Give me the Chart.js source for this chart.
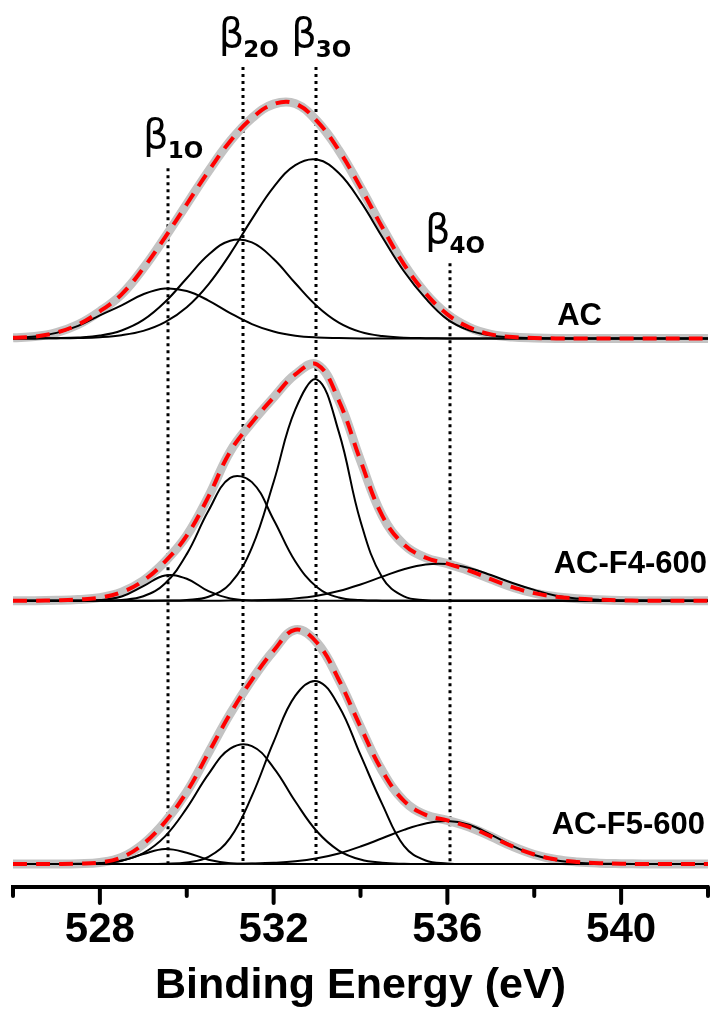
<!DOCTYPE html>
<html>
<head>
<meta charset="utf-8">
<script src="https://cdn.jsdelivr.net/npm/chart.js@4.4.1/dist/chart.umd.min.js"></script>
<style>
  html, body { margin: 0; padding: 0; background: #fff; }
  canvas { display: block; }
</style>
</head>
<body>
<canvas id="xpsChart" width="711" height="1012"></canvas>
<script>
// binding energy grid (eV)
const energy = [526, 526.5, 527, 527.5, 528, 528.5, 529, 529.5, 530, 530.5, 531, 531.5,
    532, 532.5, 533, 533.5, 534, 534.5, 535, 535.5, 536, 536.5, 537, 537.5,
    538, 538.5, 539, 539.5, 540, 540.5, 541, 541.5, 542];

// AC : fitted components and envelope (a.u. above its own baseline)
const acB1 = [0.6, 1.8, 5.5, 12.5, 23, 33, 44.1, 49.8, 47.3, 37.8, 25.3, 14.3, 6.8, 2.7, 0.9, 0.3, 0,
    0, 0, 0, 0, 0, 0, 0, 0, 0, 0, 0, 0, 0, 0, 0, 0];
const acB2 = [0, 0, 0.2, 0.9, 2.8, 7.9, 18.4, 36.3, 60.1, 83.5, 97.6, 95.9, 79.3, 55.1, 32.2, 15.8, 6.5,
    2.3, 0.7, 0.2, 0, 0, 0, 0, 0, 0, 0, 0, 0, 0, 0, 0, 0];
const acB3 = [0, 0, 0.1, 0.4, 1.2, 3.2, 7.5, 16.2, 31.1, 54, 84.4, 119.1, 151.2, 173.1, 178.6, 165.2, 136.8,
    101.3, 67.1, 39.9, 19, 8, 3, 1, 0.3, 0, 0, 0, 0, 0, 0, 0, 0];
const acEnv = [0.6, 1.8, 5.8, 13.8, 27, 44, 70, 101, 134, 167, 197, 220, 234, 234.5, 217, 188, 151,
    111, 74, 45, 24, 11, 4, 1.3, 0.4, 0, 0, 0, 0, 0, 0, 0, 0];

// AC-F4-600
const f4B1 = [0, 0, 0, 0, 0.6, 4.1, 14.5, 25.2, 21.9, 9.5, 2.1, 0.2, 0, 0, 0, 0, 0,
    0, 0, 0, 0, 0, 0, 0, 0, 0, 0, 0, 0, 0, 0, 0, 0];
const f4B2 = [0, 0, 0, 0, 0.1, 0.8, 4.4, 17.1, 46.5, 89.8, 122.6, 118.4, 80.9, 39.1, 13.4, 3.2, 0.6,
    0, 0, 0, 0, 0, 0, 0, 0, 0, 0, 0, 0, 0, 0, 0, 0];
const f4B3 = [0, 0, 0, 0, 0, 0, 0, 0.1, 0.7, 3.9, 17, 53, 118.6, 191, 220.9, 168.6, 79.4,
    23.1, 4.2, 0.5, 0, 0, 0, 0, 0, 0, 0, 0, 0, 0, 0, 0, 0];
const f4B4 = [0, 0, 0, 0, 0, 0, 0, 0, 0, 0, 0.1, 0.3, 0.9, 2.3, 5, 9.6, 16.2,
    24, 31.4, 36.2, 36.6, 32.6, 25.6, 17.7, 10.8, 5, 2.2, 0.8, 0.3, 0.1, 0, 0, 0];
const f4Env = [0, 0, 0.4, 1.2, 3, 8.5, 20, 39, 65, 104, 149, 178, 203, 226, 236, 200, 140,
    85, 56, 43, 37, 30, 21.5, 13.5, 7.5, 4, 2, 1, 0.3, 0, 0, 0, 0];

// AC-F5-600
const f5B1 = [0, 0, 0, 0, 0.5, 3.2, 9.9, 15, 11.3, 4.3, 0.8, 0.1, 0, 0, 0, 0, 0,
    0, 0, 0, 0, 0, 0, 0, 0, 0, 0, 0, 0, 0, 0, 0, 0];
const f5B2 = [0, 0, 0, 0.2, 0.9, 3.4, 10.9, 27.6, 55.8, 89.8, 115.2, 117.8, 96.1, 62.4, 32.4, 13.4, 4.4,
    1.2, 0.2, 0, 0, 0, 0, 0, 0, 0, 0, 0, 0, 0, 0, 0, 0];
const f5B3 = [0, 0, 0, 0, 0, 0, 0, 0.3, 1.5, 7, 26, 68, 122, 168.2, 182.6, 157.9, 108.9,
    59.8, 18, 3.5, 0.6, 0, 0, 0, 0, 0, 0, 0, 0, 0, 0, 0, 0];
const f5B4 = [0, 0, 0, 0, 0, 0, 0, 0, 0, 0, 0.2, 0.5, 1.2, 2.7, 5.7, 10.5, 17.4,
    25.7, 34.1, 40.5, 43, 39.2, 29.3, 18, 9, 3.7, 1.2, 0.3, 0.1, 0, 0, 0, 0];
const f5Env = [0, 0, 0, 0.3, 1.5, 6.5, 20, 42, 72, 111, 150, 184, 213, 234, 221, 184, 137,
    93, 63, 49, 43.5, 37, 27.5, 17.5, 9.5, 4.5, 2, 0.8, 0.3, 0, 0, 0, 0];

const samples = ['AC', 'AC-F4-600', 'AC-F5-600'];
const offsets = [548, 286, 23];          // vertical stacking of the spectra
const components = [[acB1, acB2, acB3], [f4B1, f4B2, f4B3, f4B4], [f5B1, f5B2, f5B3, f5B4]];
const envelopes = [acEnv, f4Env, f5Env];

// peak assignments (eV) and where their dotted guide lines start
const peakNames = ['1O', '2O', '3O', '4O'];
const peakPos = [529.56, 531.3, 532.97, 536.05];
const markerTop = [718, 819, 819, 623];

const xticks = [526, 528, 530, 532, 534, 536, 538, 540, 542];

function series(vals, off) {
    return energy.map((e, i) => ({ x: e, y: vals[i] + off }));
}

const datasets = [];
envelopes.forEach((env, s) => {
    datasets.push({ data: series(env, offsets[s]), borderColor: '#c3c3c3', borderWidth: 9, order: 3 });
    components[s].forEach(c => {
        datasets.push({ data: series(c, offsets[s]), borderColor: '#000', borderWidth: 2, order: 2 });
    });
    datasets.push({ data: series(env, offsets[s]), borderColor: '#ff0000', borderWidth: 4,
        borderDash: [14, 9], order: 1 });
});

const decor = {
    id: 'decor',
    beforeDatasetsDraw(chart) {
        const { ctx, scales: { x, y } } = chart;
        ctx.save();
        ctx.strokeStyle = '#000';
        ctx.lineWidth = 3;
        ctx.setLineDash([3, 4]);
        peakPos.forEach((p, i) => {
            const px = Math.round(x.getPixelForValue(p));
            ctx.beginPath();
            ctx.moveTo(px, y.getPixelForValue(markerTop[i]));
            ctx.lineTo(px, y.getPixelForValue(offsets[2]));
            ctx.stroke();
        });
        ctx.restore();
    },
    afterDraw(chart) {
        const { ctx, chartArea, scales: { x, y } } = chart;
        ctx.save();
        // axis ticks: long at labelled values, short in between
        ctx.strokeStyle = '#000';
        ctx.lineWidth = 4;
        ctx.lineCap = 'round';
        xticks.forEach(v => {
            const px = x.getPixelForValue(v);
            const len = (v - 528) % 4 === 0 ? 16 : 9;
            ctx.beginPath();
            ctx.moveTo(px, chartArea.bottom);
            ctx.lineTo(px, chartArea.bottom + len);
            ctx.stroke();
        });
        // peak labels
        ctx.fillStyle = '#000';
        peakPos.forEach((p, i) => {
            const px = x.getPixelForValue(p);
            const base = y.getPixelForValue(markerTop[i]) - 10;
            ctx.font = '40px "DejaVu Sans"';
            ctx.textAlign = 'right';
            ctx.fillText('β', px + 1, base - 10);
            ctx.font = '600 23px "DejaVu Sans"';
            ctx.textAlign = 'left';
            ctx.fillText(peakNames[i], px, base);
        });
        // sample names
        const lift = [13, 28, 30];
        const right = [602, 707, 705];
        ctx.font = 'bold 31px "Liberation Sans"';
        ctx.textAlign = 'right';
        samples.forEach((s, i) => {
            ctx.fillText(s, right[i], y.getPixelForValue(offsets[i] + lift[i]));
        });
        ctx.restore();
    }
};

Chart.defaults.font.family = '"Liberation Sans", Arial, sans-serif';
Chart.defaults.color = '#000';

new Chart(document.getElementById('xpsChart'), {
    type: 'line',
    data: { datasets: datasets },
    options: {
        responsive: false,
        animation: false,
        devicePixelRatio: 1,
        layout: { padding: { left: 13, right: 1, top: 0, bottom: 0 } },
        elements: {
            point: { radius: 0 },
            line: { tension: 0.4, fill: false }
        },
        plugins: {
            legend: { display: false },
            tooltip: { enabled: false }
        },
        scales: {
            x: {
                type: 'linear',
                min: 526,
                max: 542,
                afterBuildTicks: axis => { axis.ticks = xticks.map(v => ({ value: v })); },
                ticks: {
                    autoSkip: false,
                    maxRotation: 0,
                    padding: 3,
                    font: { size: 42, weight: 'bold' },
                    callback: v => ((v - 528) % 4 === 0 ? String(v) : '')
                },
                grid: { drawOnChartArea: false, tickLength: 15, tickColor: 'rgba(0,0,0,0)' },
                border: { color: '#000', width: 4 },
                title: {
                    display: true,
                    text: 'Binding Energy (eV)',
                    font: { size: 43, weight: 'bold' },
                    padding: { top: 2, bottom: 0 }
                }
            },
            y: { display: false, min: 0, max: 886 }
        }
    },
    plugins: [decor]
});
</script>
</body>
</html>
